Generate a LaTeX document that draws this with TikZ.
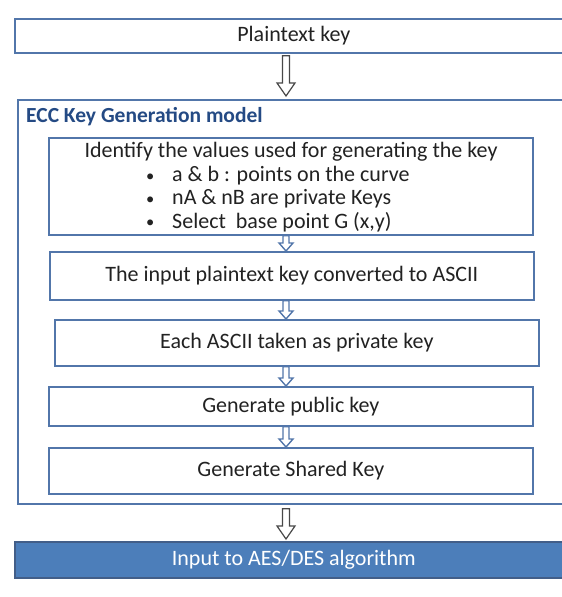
\documentclass[tikz,border=0pt]{standalone}
\usepackage{fontspec}
\setmainfont{Carlito}
\usetikzlibrary{calc}

\definecolor{frameblue}{RGB}{82,118,170}
\definecolor{titleblue}{RGB}{36,74,132}
\definecolor{barblue}{RGB}{76,126,186}
\definecolor{arrowgray}{RGB}{72,72,72}
\definecolor{inktext}{RGB}{34,34,34}

% hollow block arrow running straight down from #2 to #3
% #1 style, #4 shaft half width, #5 head half width, #6 head length
\newcommand{\blockarrowdown}[6]{%
  \draw[#1] let \p1=(#2), \p2=(#3) in
    (\x1-#4,\y1) -- (\x1-#4,\y2+#6) -- (\x1-#5,\y2+#6) -- (\x1,\y2)
    -- (\x1+#5,\y2+#6) -- (\x1+#4,\y2+#6) -- (\x1+#4,\y1) -- cycle;}

% list marker: a small round dot followed by the indent
\newcommand{\listdot}{\makebox[26pt][l]{\raisebox{0.5pt}{\scalebox{0.75}{•}}}}

\tikzset{
  basebox/.style={draw=frameblue, line width=1.7pt, fill=white, inner sep=0pt,
    anchor=north west, text=inktext},
  widebox/.style={basebox, minimum width=558pt},
  stepbox/.style={basebox, minimum width=484pt},
  bluebar/.style={basebox, fill=barblue, draw=frameblue!80!black, minimum width=558pt,
    text=white},
  modeltitle/.style={anchor=west, text=titleblue, font=\fontsize{21.5}{25}\selectfont\bfseries},
  plainline/.style={text=inktext, inner sep=0pt},
  bigarrow/.style={draw=arrowgray, fill=white, line width=1.2pt, line join=miter},
  smallarrow/.style={draw=frameblue, fill=white, line width=1.4pt, line join=miter}
}

\begin{document}
\begin{tikzpicture}[x=1pt, y=-1pt, font=\fontsize{22}{26}\selectfont]
  \useasboundingbox (0,0) rectangle (562,597);
  \clip (0,0) rectangle (562,597);

  \coordinate (axis) at (286,0);

  % top input
  \node[widebox, minimum height=34pt] (plain) at (14,18) {Plaintext key};

  % enclosing model frame
  \node[basebox, minimum width=548pt, minimum height=404pt] (ecc) at (17,99) {};
  \node[modeltitle, inner sep=0pt] (ecctitle) at (26,117) {ECC Key Generation model};

  % step 1 with its list of values
  \node[stepbox, minimum height=97pt] (s1) at (48,137) {};
  \node[plainline] (s1head) at (291,152) {Identify the values used for generating the key};
  \node[plainline, anchor=west] (s1a) at (146,176) {\listdot a \& b : points on the curve};
  \node[plainline, anchor=west] (s1b) at (146,199) {\listdot nA \& nB are private Keys};
  \node[plainline, anchor=west] (s1c) at (146,222) {\listdot Select\ \ base point G (x,y)};

  % remaining steps
  \node[stepbox, minimum height=48pt] (s2) at (49,251) {The input plaintext key converted to ASCII};
  \node[stepbox, minimum height=46pt] (s3) at (54,319) {Each ASCII taken as private key};
  \node[stepbox, minimum height=39pt] (s4) at (48,386) {Generate public key};
  \node[stepbox, minimum height=46pt] (s5) at (48,447) {Generate Shared Key};

  % output
  \node[bluebar, minimum height=36pt] (out) at (14,541) {Input to AES/DES algorithm};

  % arrows between the stages
  \blockarrowdown{bigarrow}{$(plain.south -| axis)+(0,2)$}{$(ecc.north -| axis)+(0,-3)$}{3.5pt}{9pt}{13pt}
  \blockarrowdown{smallarrow}{s1.south -| axis}{s2.north -| axis}{3pt}{7pt}{8pt}
  \blockarrowdown{smallarrow}{s2.south -| axis}{s3.north -| axis}{3pt}{7pt}{8pt}
  \blockarrowdown{smallarrow}{s3.south -| axis}{s4.north -| axis}{3pt}{7pt}{8pt}
  \blockarrowdown{smallarrow}{s4.south -| axis}{s5.north -| axis}{3pt}{7pt}{8pt}
  \blockarrowdown{bigarrow}{$(ecc.south -| axis)+(0,4)$}{$(out.north -| axis)+(0,-2)$}{3.5pt}{9pt}{13pt}
\end{tikzpicture}
\end{document}
